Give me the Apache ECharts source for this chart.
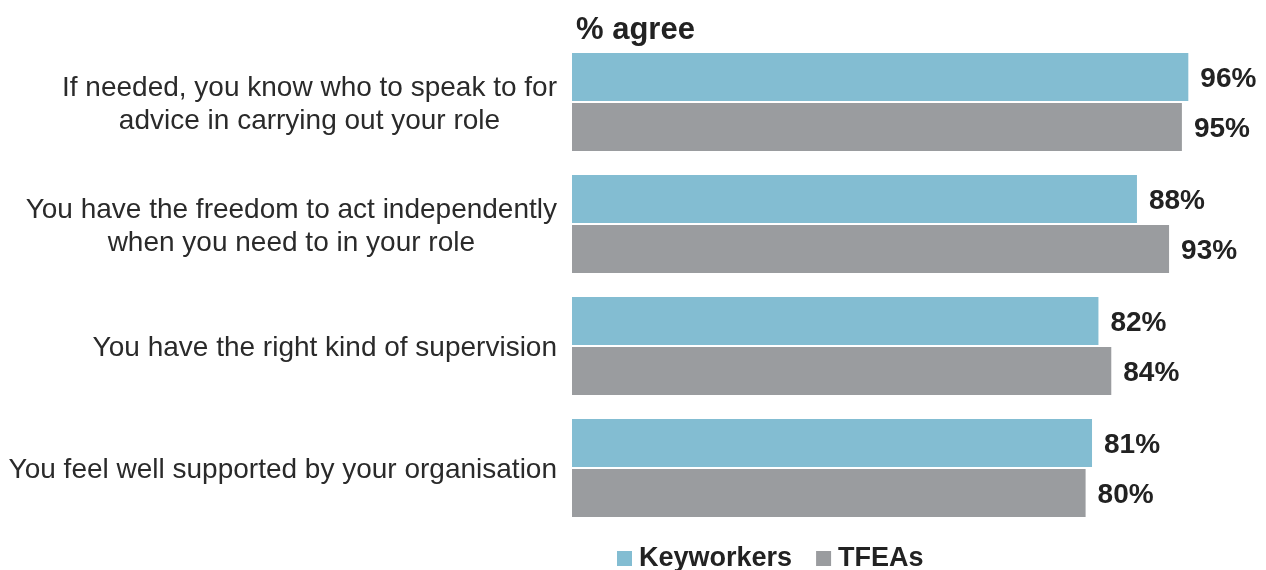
<!DOCTYPE html>
<html>
<head>
<meta charset="utf-8">
<script src="https://cdn.jsdelivr.net/npm/echarts@6/dist/echarts.min.js"></script>
<style>
  html, body { margin: 0; padding: 0; background: #fff; }
  #main { width: 1266px; height: 570px; }
</style>
</head>
<body>
<div id="main"></div>
<script>
var categories = [
    'If needed, you know who to speak to for\nadvice in carrying out your role',
    'You have the freedom to act independently\nwhen you need to in your role',
    'You have the right kind of supervision',
    'You feel well supported by your organisation'
];
var keyworkers = [96, 88, 82, 81];
var tfeas = [95, 93, 84, 80];

var font = '"Liberation Sans", Arial, Helvetica, sans-serif';
var myChart = echarts.init(document.getElementById('main'));

// value label shared by both series
var valueLabel = {
    show: true,
    position: 'right',
    distance: 12,
    offset: [0, 2],
    formatter: '{c}%',
    fontFamily: font,
    fontSize: 28,
    fontWeight: 'bold',
    color: '#222'
};

option = {
    backgroundColor: '#fff',
    textStyle: { fontFamily: font },
    title: {
        text: '% agree',
        left: 571,
        top: 10,
        textStyle: {
            fontFamily: font,
            fontSize: 31,
            fontWeight: 'bold',
            color: '#222'
        }
    },
    legend: {
        left: 612,
        top: 540,
        itemWidth: 15,
        itemHeight: 15,
        itemGap: 24,
        icon: 'rect',
        textStyle: {
            fontFamily: font,
            fontSize: 27,
            fontWeight: 'bold',
            color: '#222',
            padding: [0, 0, 0, 2]
        },
        data: ['Keyworkers', 'TFEAs']
    },
    grid: {
        left: 572,
        right: 52,
        top: 41,
        height: 488
    },
    xAxis: {
        type: 'value',
        min: 0,
        max: 100,
        show: false
    },
    yAxis: {
        type: 'category',
        inverse: true,
        data: categories,
        axisLine: { show: false },
        axisTick: { show: false },
        axisLabel: {
            margin: 15,
            lineHeight: 33,
            padding: [5, 0, 0, 0],
            formatter: function (v) {
                return v.split('\n').map(function (s) { return '{c|' + s + '}'; }).join('\n');
            },
            rich: {
                c: {
                    align: 'center',
                    fontFamily: font,
                    fontSize: 28,
                    lineHeight: 33,
                    color: '#2a2a2a'
                }
            }
        }
    },
    series: [
        {
            name: 'Keyworkers',
            type: 'bar',
            barWidth: 48,
            barGap: '4%',
            itemStyle: { color: '#83bdd2' },
            label: valueLabel,
            data: keyworkers
        },
        {
            name: 'TFEAs',
            type: 'bar',
            barWidth: 48,
            barGap: '4%',
            itemStyle: { color: '#9a9c9f' },
            label: valueLabel,
            data: tfeas
        }
    ]
};
myChart.setOption(option);
</script>
</body>
</html>
